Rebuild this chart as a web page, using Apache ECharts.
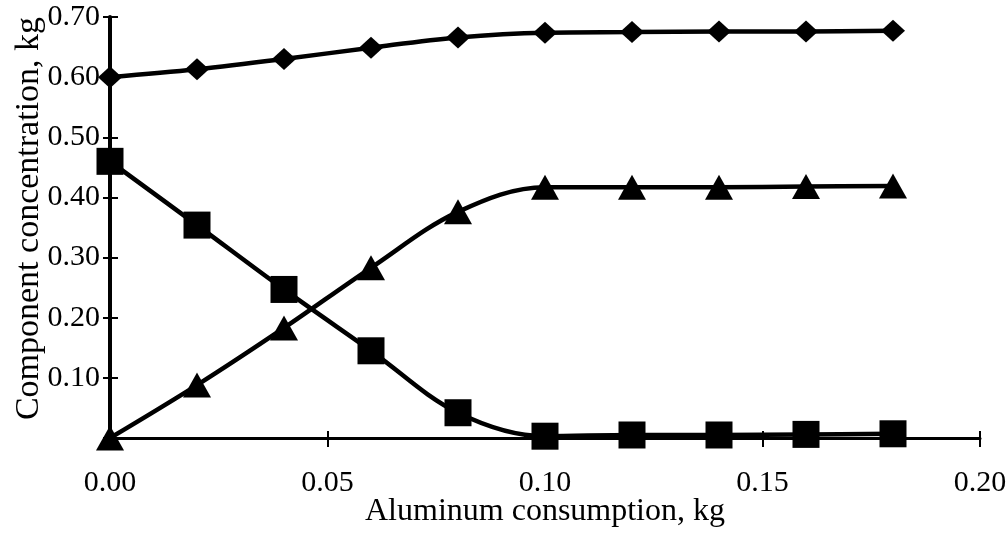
<!DOCTYPE html>
<html>
<head>
<meta charset="utf-8">
<script src="https://cdn.jsdelivr.net/npm/echarts@6/dist/echarts.min.js"></script>
<style>
html,body{margin:0;padding:0;background:#fff;}
#chart{width:1007px;height:537px;}
</style>
</head>
<body>
<div id="chart"></div>
<script>
// Data (x = aluminum consumption, kg)
var xValues = [0.00, 0.02, 0.04, 0.06, 0.08, 0.10, 0.12, 0.14, 0.16, 0.18];
var diamondSeries = [0.600, 0.613, 0.630, 0.649, 0.666, 0.674, 0.675, 0.676, 0.676, 0.677];
var squareSeries  = [0.460, 0.354, 0.247, 0.145, 0.042, 0.003, 0.005, 0.005, 0.006, 0.007];
var triangleSeries= [0.000, 0.088, 0.183, 0.283, 0.376, 0.417, 0.417, 0.417, 0.418, 0.419];

var xTitle = 'Aluminum consumption, kg';
var yTitle = 'Component concentration, kg';

function pairs(ys){ return xValues.map(function(x,i){ return [x, ys[i]]; }); }

var font = '"Liberation Serif", "DejaVu Serif", serif';
var chart = echarts.init(document.getElementById('chart'), null, {renderer:'canvas'});

var lineBase = {
  type:'line', smooth:0.35, xAxisIndex:0, yAxisIndex:0,
  lineStyle:{color:'#000', width:4.5},
  itemStyle:{color:'#000'},
  emphasis:{disabled:true}, animation:false, z:3
};

chart.setOption({
  backgroundColor:'#fff',
  animation:false,
  grid:{left:110, right:27, top:17, bottom:99, containLabel:false, outerBoundsMode:'none'},
  xAxis:[{
    type:'value', min:0, max:0.2, interval:0.05,
    name:xTitle, nameLocation:'middle', nameGap:58, nameMoveOverlap:false,
    nameTextStyle:{fontFamily:font, fontSize:32, color:'#000'},
    axisLine:{show:true, onZero:false, lineStyle:{color:'#000', width:3}},
    axisTick:{show:true, inside:false, length:9, lineStyle:{color:'#000', width:2}},
    axisLabel:{fontFamily:font, fontSize:30, color:'#000', margin:30,
      formatter:function(v){return v.toFixed(2);}},
    splitLine:{show:false}
  },{
    type:'value', min:0, max:0.2, interval:0.05, position:'bottom', offset:0,
    axisLine:{show:false},
    axisTick:{show:true, inside:true, length:7, lineStyle:{color:'#000', width:2}},
    axisLabel:{show:false}, splitLine:{show:false}
  }],
  yAxis:[{
    type:'value', min:0, max:0.7, interval:0.1,
    name:yTitle, nameLocation:'middle', nameGap:64, nameMoveOverlap:false,
    nameTextStyle:{fontFamily:font, fontSize:34, color:'#000', padding:[0,0,0,18]},
    axisLine:{show:true, onZero:false, lineStyle:{color:'#000', width:4}},
    axisTick:{show:true, inside:false, length:7, lineStyle:{color:'#000', width:2}},
    axisLabel:{fontFamily:font, fontSize:30, color:'#000', margin:10,
      formatter:function(v){return v===0 ? '' : v.toFixed(2);}},
    splitLine:{show:false}
  },{
    type:'value', min:0, max:0.7, interval:0.1, position:'left', offset:0,
    axisLine:{show:false},
    axisTick:{show:true, inside:true, length:8, lineStyle:{color:'#000', width:2}},
    axisLabel:{show:false}, splitLine:{show:false}
  }],
  series:[
    Object.assign({}, lineBase, {name:'diamond', data:pairs(diamondSeries), symbol:'diamond', symbolSize:[24,22]}),
    Object.assign({}, lineBase, {name:'square', data:pairs(squareSeries), symbol:'rect', symbolSize:[27,27]}),
    Object.assign({}, lineBase, {name:'triangle', data:pairs(triangleSeries), symbol:'triangle', symbolSize:[28,25]})
  ]
});
</script>
</body>
</html>
